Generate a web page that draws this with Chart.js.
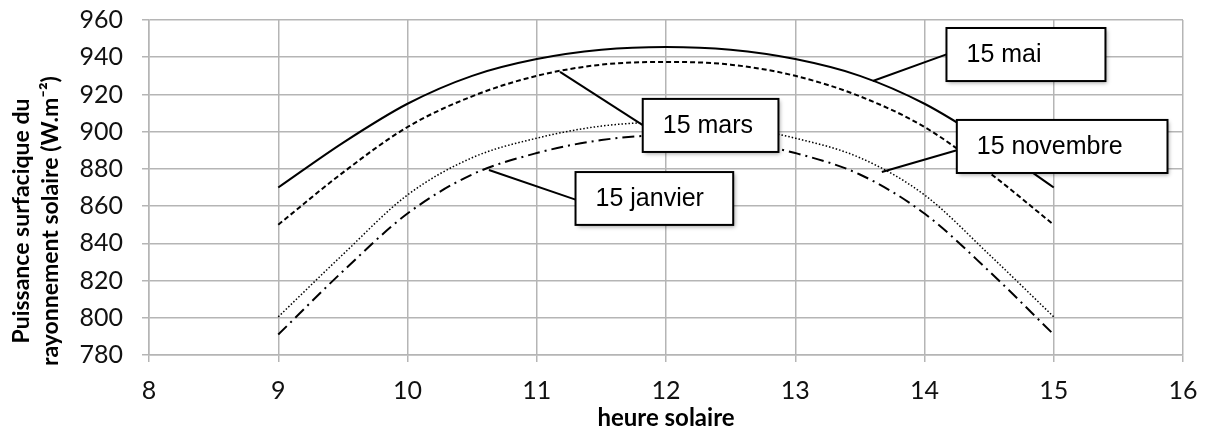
<!DOCTYPE html>
<html>
<head>
<meta charset="utf-8">
<script src="https://cdn.jsdelivr.net/npm/chart.js@4.4.1/dist/chart.umd.min.js"></script>
<style>
  body { margin: 0; background: #fff; }
  canvas { display: block; }
</style>
</head>
<body>
<canvas id="SunChart" width="1205" height="432"></canvas>
<script>
// hours and readings (W.m-2)
const hours = [9, 9.5, 10, 10.5, 11, 11.5, 12, 12.5, 13, 13.5, 14, 14.5, 15];
const mai = [870, 894, 915, 930, 939, 944, 945.5, 944, 939, 930, 915, 894, 870];
const mars = [850, 878, 902.5, 919, 930, 936, 937.5, 936, 930, 919, 902.5, 878, 850];
const novembre = [800.5, 834, 866, 886, 896.5, 903, 905, 903, 896.5, 886, 866, 834, 800.5];
const janvier = [791, 825, 856, 877, 888.5, 895.5, 898, 895.5, 888.5, 877, 856, 825, 791];

const xTicks = [8, 9, 10, 11, 12, 13, 14, 15, 16];
const yTicks = [780, 800, 820, 840, 860, 880, 900, 920, 940, 960];

// callout boxes, in data units (anchor on the curve, box corners)
const callouts = [
  { text: '15 mai', ax: 13.60, ay: 927.2, x0: 14.17, x1: 15.40, yTop: 955.7, yBot: 927.2, ey: 941.5 },
  { text: '15 mars', ax: 11.18, ay: 932.1, x0: 11.82, x1: 12.87, yTop: 917.6, yBot: 889.1, ey: 903.5 },
  { text: '15 novembre', ax: 13.67, ay: 878.3, x0: 14.25, x1: 15.88, yTop: 906.3, yBot: 877.8, ey: 890 },
  { text: '15 janvier', ax: 10.63, ay: 879.4, x0: 11.30, x1: 12.52, yTop: 878.3, yBot: 849.9, ey: 863.5 }
];

const toPoints = vals => hours.map((h, i) => ({ x: h, y: vals[i] }));

const gridGrey = '#b5b5b5';
const shiftDown = '\u00A0'.repeat(12); // nudges the rotated y title a bit lower, like the original

const calloutPlugin = {
  id: 'callouts',
  afterDatasetsDraw(chart) {
    const ctx = chart.ctx;
    const xs = chart.scales.x, ys = chart.scales.y;
    ctx.save();
    callouts.forEach(c => {
      const ax = xs.getPixelForValue(c.ax), ay = ys.getPixelForValue(c.ay);
      const bx0 = xs.getPixelForValue(c.x0), bx1 = xs.getPixelForValue(c.x1);
      const by0 = ys.getPixelForValue(c.yTop), by1 = ys.getPixelForValue(c.yBot);
      const ey = ys.getPixelForValue(c.ey);
      // leader line
      ctx.strokeStyle = '#000';
      ctx.lineWidth = 2;
      ctx.setLineDash([]);
      ctx.beginPath();
      ctx.moveTo(ax, ay);
      ctx.lineTo(bx0, ey);
      ctx.stroke();
      // box with soft shadow
      ctx.save();
      ctx.shadowColor = 'rgba(0,0,0,0.35)';
      ctx.shadowBlur = 4;
      ctx.shadowOffsetX = 2;
      ctx.shadowOffsetY = 2;
      ctx.fillStyle = '#fff';
      ctx.fillRect(bx0, by0, bx1 - bx0, by1 - by0);
      ctx.restore();
      ctx.strokeRect(bx0, by0, bx1 - bx0, by1 - by0);
      ctx.fillStyle = '#000';
      ctx.font = '25px "Liberation Sans", Arial, sans-serif';
      ctx.textBaseline = 'middle';
      ctx.textAlign = 'left';
      ctx.fillText(c.text, bx0 + 20, (by0 + by1) / 2 + 1);
    });
    ctx.restore();
  }
};

const tickFont = { family: 'Lato', size: 25, lineHeight: 1.2 };

const config = {
  type: 'line',
  data: {
    datasets: [
      { label: '15 mai', data: toPoints(mai), borderColor: '#000', borderWidth: 2 },
      { label: '15 mars', data: toPoints(mars), borderColor: '#000', borderWidth: 2, borderDash: [5, 3] },
      { label: '15 novembre', data: toPoints(novembre), borderColor: '#000', borderWidth: 1.5, borderDash: [1.5, 2] },
      { label: '15 janvier', data: toPoints(janvier), borderColor: '#000', borderWidth: 2, borderDash: [12, 5, 2, 5] }
    ]
  },
  options: {
    responsive: false,
    animation: false,
    devicePixelRatio: 1,
    layout: { padding: { top: 20, right: 22, bottom: 0, left: 0 } },
    elements: {
      point: { radius: 0 },
      line: { cubicInterpolationMode: 'monotone', fill: false }
    },
    plugins: { legend: { display: false }, tooltip: { enabled: false } },
    scales: {
      x: {
        type: 'linear',
        min: 8,
        max: 16,
        afterBuildTicks: s => { s.ticks = xTicks.map(v => ({ value: v })); },
        afterFit: s => { s.height = 77; s.paddingLeft = 0; s.paddingRight = 0; },
        ticks: { font: tickFont, color: '#111', padding: 14, maxRotation: 0 },
        grid: { color: gridGrey, lineWidth: 1.5, tickLength: 7 },
        border: { color: gridGrey, width: 1.5 },
        title: { display: true, text: 'heure solaire', font: { family: 'Lato', size: 24, weight: 'bold', lineHeight: 1.2 }, color: '#000', padding: { top: 0, bottom: -1 } }
      },
      y: {
        min: 780,
        max: 960,
        afterBuildTicks: s => { s.ticks = yTicks.map(v => ({ value: v })); },
        afterFit: s => { s.width = 149; s.paddingTop = 0; s.paddingBottom = 0; },
        ticks: { font: tickFont, color: '#111', padding: 19 },
        grid: { color: gridGrey, lineWidth: 1.5, tickLength: 7 },
        border: { color: gridGrey, width: 1.5 },
        title: {
          display: true,
          text: ['Puissance surfacique du' + shiftDown, 'rayonnement solaire (W.m\u207B\u00B2)' + shiftDown],
          font: { family: 'Lato', size: 23, weight: 'bold', lineHeight: 1.22 },
          color: '#000',
          padding: { top: 8, bottom: 0 }
        }
      }
    }
  },
  plugins: [calloutPlugin]
};

new Chart(document.getElementById('SunChart').getContext('2d'), config);
</script>
</body>
</html>
